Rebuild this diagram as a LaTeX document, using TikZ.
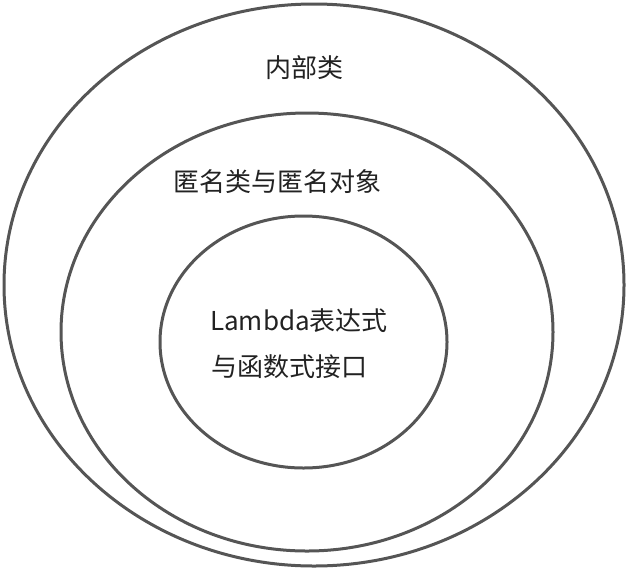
\documentclass[tikz,border=0pt]{standalone}
\usepackage{fontspec}
\setmainfont{Noto Sans CJK SC}
\definecolor{ringgray}{HTML}{555555}
\definecolor{txtgray}{HTML}{222222}
\begin{document}
\begin{tikzpicture}[x=1pt,y=-1pt,
  ring/.style={draw=ringgray,line width=3pt},
  lbl/.style={inner sep=0pt,text=txtgray,font=\fontsize{26}{30}\selectfont}]
\useasboundingbox (0,0) rectangle (628,573);
\draw[ring] (314,285) ellipse [x radius=310,y radius=281];
\draw[ring] (307,332) ellipse [x radius=246,y radius=219];
\draw[ring] (303.5,342) ellipse [x radius=143.5,y radius=126];
\node[lbl,anchor=base] (outer) at (304,77) {内部类};
\node[lbl,anchor=base] (middle) at (277.5,191) {匿名类与匿名对象};
\node[lbl,anchor=base west] (inner1) at (210,330) {Lambda表达式};
\node[lbl,anchor=base west] (inner2) at (211,376) {与函数式接口};
\end{tikzpicture}
\end{document}
